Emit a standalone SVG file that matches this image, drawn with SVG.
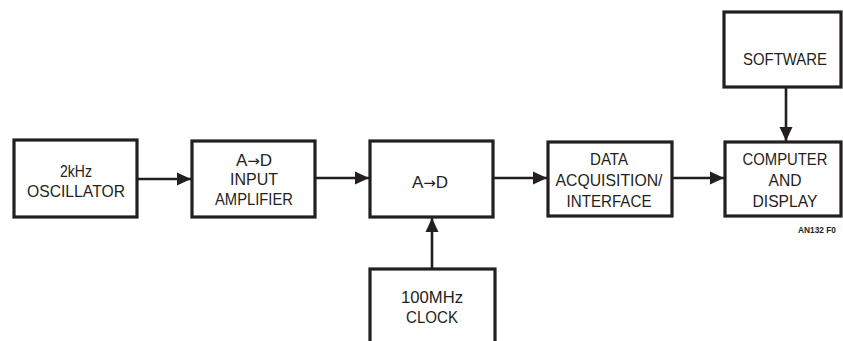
<svg xmlns="http://www.w3.org/2000/svg" width="843" height="341" viewBox="0 0 843 341">
<defs>
<style>
.box{fill:#fff;stroke:#231f20;stroke-width:3.2}
.t{font-family:"Liberation Sans",Arial,sans-serif;font-size:17px;fill:#231f20;text-anchor:middle}
.ar{font-family:"DejaVu Sans",sans-serif;font-size:15px}
.c{stroke:#231f20;stroke-width:2.6;fill:none}
.f{font-family:"Liberation Sans",Arial,sans-serif;font-size:9px;font-weight:bold;fill:#231f20}
</style>
<marker id="ah" markerUnits="userSpaceOnUse" markerWidth="14" markerHeight="14" viewBox="0 0 14 14" refX="14" refY="7" orient="auto">
<path d="M0,0.5 L14,7 L0,13.5 Z" fill="#231f20"/>
</marker>
</defs>
<rect width="843" height="341" fill="#fff"/>
<g id="connectors">
<line class="c" x1="137" y1="179" x2="191" y2="179" marker-end="url(#ah)"/>
<line class="c" x1="315" y1="178" x2="369" y2="178" marker-end="url(#ah)"/>
<line class="c" x1="493" y1="178" x2="547" y2="178" marker-end="url(#ah)"/>
<line class="c" x1="672" y1="178" x2="724" y2="178" marker-end="url(#ah)"/>
<line class="c" x1="786" y1="87" x2="786" y2="141" marker-end="url(#ah)"/>
<line class="c" x1="432" y1="269" x2="432" y2="218" marker-end="url(#ah)"/>
</g>
<g id="osc">
<rect class="box" x="14" y="140" width="123" height="77"/>
<text class="t" x="76" y="177" textLength="32" lengthAdjust="spacingAndGlyphs">2kHz</text>
<text class="t" x="76" y="197" textLength="98" lengthAdjust="spacingAndGlyphs">OSCILLATOR</text>
</g>
<g id="amp">
<rect class="box" x="192" y="141" width="123" height="76"/>
<text class="t" x="254" y="166">A<tspan class="ar">→</tspan>D</text>
<text class="t" x="254" y="185" textLength="48" lengthAdjust="spacingAndGlyphs">INPUT</text>
<text class="t" x="254" y="205" textLength="78" lengthAdjust="spacingAndGlyphs">AMPLIFIER</text>
</g>
<g id="adc">
<rect class="box" x="370" y="141" width="123" height="76"/>
<text class="t" x="430" y="188">A<tspan class="ar">→</tspan>D</text>
</g>
<g id="daq">
<rect class="box" x="548" y="142" width="124" height="74"/>
<text class="t" x="609" y="165" textLength="38" lengthAdjust="spacingAndGlyphs">DATA</text>
<text class="t" x="609" y="186" textLength="107" lengthAdjust="spacingAndGlyphs">ACQUISITION/</text>
<text class="t" x="609" y="207" textLength="85" lengthAdjust="spacingAndGlyphs">INTERFACE</text>
</g>
<g id="computer">
<rect class="box" x="725" y="142" width="116" height="74"/>
<text class="t" x="785" y="165" textLength="85" lengthAdjust="spacingAndGlyphs">COMPUTER</text>
<text class="t" x="785" y="186" textLength="33" lengthAdjust="spacingAndGlyphs">AND</text>
<text class="t" x="785" y="207" textLength="65" lengthAdjust="spacingAndGlyphs">DISPLAY</text>
</g>
<g id="software">
<rect class="box" x="724" y="12" width="117" height="75"/>
<text class="t" x="785" y="65" textLength="84" lengthAdjust="spacingAndGlyphs">SOFTWARE</text>
</g>
<g id="clock">
<rect class="box" x="370" y="269" width="125" height="80"/>
<text class="t" x="432" y="303" textLength="62" lengthAdjust="spacingAndGlyphs">100MHz</text>
<text class="t" x="432" y="323" textLength="52" lengthAdjust="spacingAndGlyphs">CLOCK</text>
</g>
<text class="f" x="798" y="233" textLength="38" lengthAdjust="spacingAndGlyphs">AN132 F0</text>
</svg>
